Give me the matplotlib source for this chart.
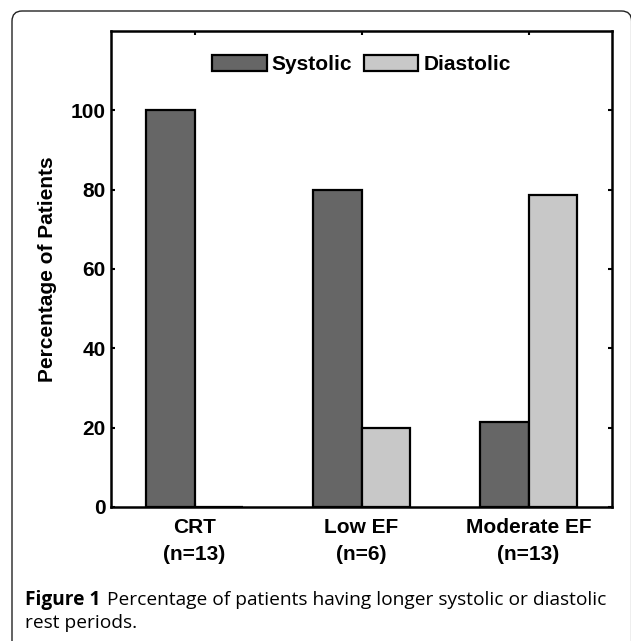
import numpy as np
import matplotlib.pyplot as plt
from matplotlib.patches import FancyBboxPatch

# Data
groups = ['CRT\n(n=13)', 'Low EF\n(n=6)', 'Moderate EF\n(n=13)']
systolic = [100, 80, 21.4]
diastolic = [0, 20, 78.6]
y_ticks = [0, 20, 40, 60, 80, 100]

plt.rcParams['font.family'] = ['Liberation Sans', 'DejaVu Sans']

fig = plt.figure(figsize=(6.31, 6.41), dpi=100)

# rounded figure border (bottom edge runs off the image)
border = FancyBboxPatch((12 / 631, -0.05), 1 - 24 / 631 + 0.02, 1 - 11 / 641 + 0.05,
                        boxstyle='round,pad=0,rounding_size=0.016',
                        transform=fig.transFigure, fill=False,
                        edgecolor='#222222', linewidth=1.0, clip_on=False)
fig.patches.append(border)

ax = fig.add_axes([111 / 631, 1 - 507 / 641, (612 - 111) / 631, (507 - 31) / 641])

x = np.arange(1, len(groups) + 1)
w = 0.29
ax.bar(x - w / 2, systolic, w, color='#666666', edgecolor='black',
       linewidth=1.6, label='Systolic')
ax.bar(x + w / 2, diastolic, w, color='#c8c8c8', edgecolor='black',
       linewidth=1.6, label='Diastolic')

ax.set_xlim(0.5, 3.5)
ax.set_ylim(0, 120)
ax.set_xticks(x)
ax.set_xticklabels(groups, fontsize=15, fontweight='bold', linespacing=1.55)
ax.set_yticks(y_ticks)
ax.set_yticklabels([str(t) for t in y_ticks], fontsize=15, fontweight='bold')
ax.tick_params(direction='in', length=3, width=1.5, top=True, right=True, pad=4)
ax.tick_params(axis='x', pad=8)
for s in ax.spines.values():
    s.set_linewidth(1.8)

ax.set_ylabel('Percentage of Patients', fontsize=15, fontweight='bold', labelpad=10)

leg = ax.legend(loc='upper center', ncol=2, frameon=False,
                prop={'weight': 'bold', 'size': 15},
                handlelength=2.6, handleheight=0.85, handletextpad=0.25,
                columnspacing=0.55, bbox_to_anchor=(0.5, 0.99))

# caption
cap_y = 1 - 600 / 641
t1 = fig.text(25 / 631, cap_y, 'Figure 1', fontsize=13.8, fontweight='bold',
              va='center', ha='left', family='Open Sans')
ax.annotate('Percentage of patients having longer systolic or diastolic',
            xy=(1, 0.5), xycoords=t1, xytext=(5, 0), textcoords='offset points',
            fontsize=13.8, va='center', ha='left', family='Open Sans',
            annotation_clip=False)
fig.text(25 / 631, 1 - 623 / 641, 'rest periods.', fontsize=13.8,
         va='center', ha='left', family='Open Sans')

fig.savefig('out.png', dpi=100)
